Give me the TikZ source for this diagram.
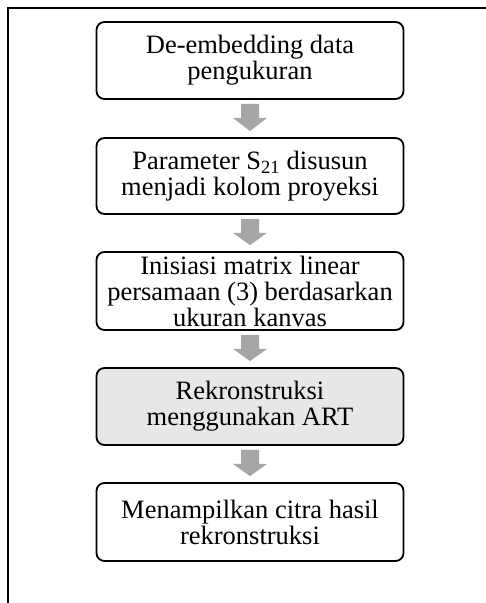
\documentclass[tikz,border=0pt]{standalone}
\usepackage{fontspec}
\setmainfont{Liberation Serif}
\usetikzlibrary{calc}
\definecolor{arrowgray}{HTML}{A6A6A6}
\definecolor{boxgray}{HTML}{E7E7E7}
\tikzset{
  stepbox/.style={draw=black, line width=1.8pt, rounded corners=8pt, minimum width=307pt,
    inner sep=0pt, align=center, font=\fontsize{26.5}{26}\selectfont, fill=white},
  flowarrow/.style={fill=arrowgray, draw=none}
}
\newcommand{\downarrowshape}[2]{%
  \fill[flowarrow] ($(#1.south)+(-9,4)$) -- ++(18,0) -- ++(0,14) -- ++(8,0)
    -- ($(#2.north)+(0,-6)$) -- ($(#1.south)+(-17,18)$) -- ++(8,0) -- cycle;}
\begin{document}
\begin{tikzpicture}[x=1pt,y=-1pt]
\useasboundingbox (0,0) rectangle (486,603);
\coordinate (fbl) at (8,603);
\coordinate (ftl) at (8,8);
\coordinate (ftr) at (486,8);
\draw[line width=1.4pt] (fbl) -- (ftl) -- (ftr);
\node[stepbox, minimum height=77pt] (b1) at (250,60.5) {De-embedding data\\pengukuran};
\node[stepbox, minimum height=76pt] (b2) at (250,176) {Parameter S\textsubscript{21} disusun\\menjadi kolom proyeksi};
\node[stepbox, minimum height=78pt] (b3) at (250,291) {Inisiasi matrix linear\\persamaan (3) berdasarkan\\ukuran kanvas};
\node[stepbox, minimum height=77pt, fill=boxgray] (b4) at (250,406.5) {Rekronstruksi\\menggunakan ART};
\node[stepbox, minimum height=78pt] (b5) at (250,522) {Menampilkan citra hasil\\rekronstruksi};
\downarrowshape{b1}{b2}
\downarrowshape{b2}{b3}
\downarrowshape{b3}{b4}
\downarrowshape{b4}{b5}
\end{tikzpicture}
\end{document}
